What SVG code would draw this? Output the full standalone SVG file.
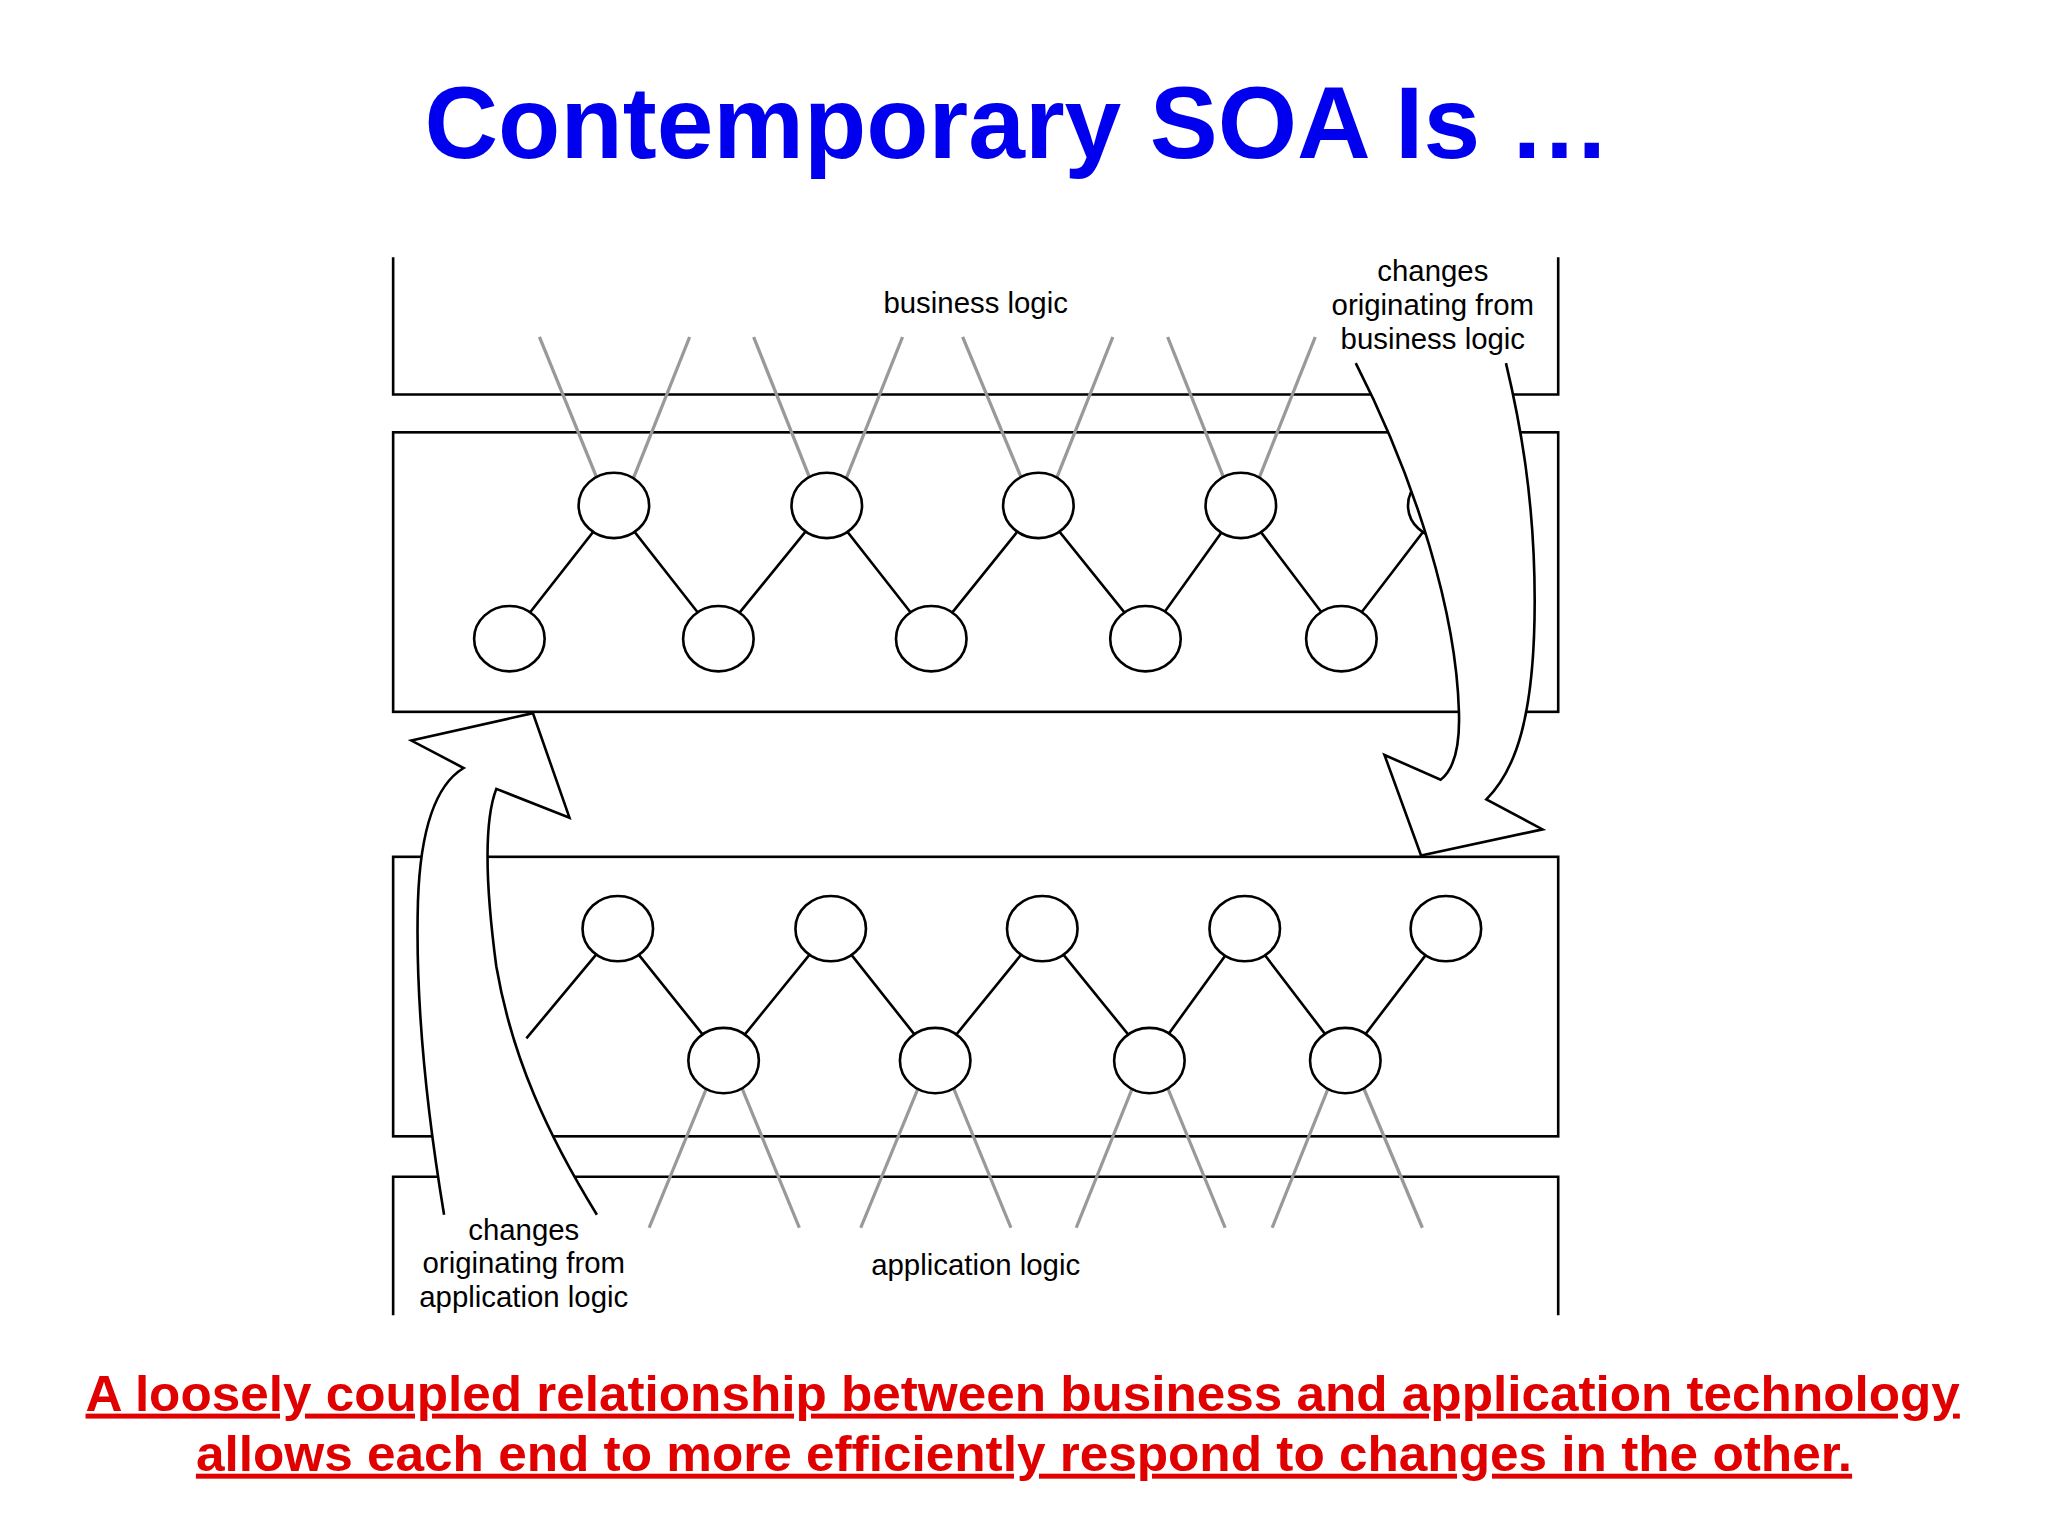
<svg xmlns="http://www.w3.org/2000/svg" width="2048" height="1536" viewBox="0 0 2048 1536">
<style>
.b{fill:none;stroke:#000;stroke-width:2}
.n{fill:#fff;stroke:#000;stroke-width:2}
.g{stroke:#999;stroke-width:2.5}
.l{font-family:"Liberation Sans",Arial,sans-serif;font-size:22.5px;text-anchor:middle;fill:#000}
.r{font-family:"Liberation Sans",Arial,sans-serif;font-size:38px;font-weight:bold;fill:#e00000;text-decoration:underline;text-anchor:middle}
</style>
<rect width="2048" height="1536" fill="#fff"/>
<g transform="scale(1.30612)">
<text x="779" y="121" font-family="Liberation Sans,Arial,sans-serif" font-size="78" font-weight="bold" fill="#0000ee" text-anchor="middle" textLength="908" lengthAdjust="spacingAndGlyphs">Contemporary SOA Is …</text>
<g id="boxes">
<path class="b" d="M301,197 V302 H1193 V197"/>
<rect id="business-band" class="b" x="301" y="331" width="892" height="214"/>
<rect id="application-band" class="b" x="301" y="656" width="892" height="214"/>
<path class="b" d="M301,1007 V901 H1193 V1007"/>
</g>
<g id="connectors">
<g class="g">
<line x1="413" y1="258" x2="457" y2="366"/><line x1="528" y1="258" x2="485" y2="366"/>
<line x1="577" y1="258" x2="620" y2="366"/><line x1="691" y1="258" x2="648" y2="366"/>
<line x1="737" y1="258" x2="782" y2="366"/><line x1="852" y1="258" x2="809" y2="366"/>
<line x1="894" y1="258" x2="937" y2="366"/><line x1="1007" y1="258" x2="964" y2="366"/>
<line x1="497" y1="940" x2="541" y2="833"/><line x1="612" y1="940" x2="568" y2="833"/>
<line x1="659" y1="940" x2="703" y2="833"/><line x1="774" y1="940" x2="730" y2="833"/>
<line x1="824" y1="940" x2="867" y2="833"/><line x1="938" y1="940" x2="894" y2="833"/>
<line x1="974" y1="940" x2="1017" y2="833"/><line x1="1089" y1="940" x2="1044" y2="833"/>
</g>
<polyline class="b" points="390,489 470,387 550,489 633,387 713,489 795,387 877,489 950,387 1027,489 1105,387"/>
<polyline class="b" points="403,795 473,711 554,812 636,711 716,812 798,711 880,812 953,711 1030,812 1107,711"/>
</g>
<g id="business-services">
<ellipse class="n" cx="470" cy="387" rx="27" ry="25"/><ellipse class="n" cx="633" cy="387" rx="27" ry="25"/>
<ellipse class="n" cx="795" cy="387" rx="27" ry="25"/><ellipse class="n" cx="950" cy="387" rx="27" ry="25"/>
<ellipse class="n" cx="1105" cy="387" rx="27" ry="25"/>
<ellipse class="n" cx="390" cy="489" rx="27" ry="25"/><ellipse class="n" cx="550" cy="489" rx="27" ry="25"/>
<ellipse class="n" cx="713" cy="489" rx="27" ry="25"/><ellipse class="n" cx="877" cy="489" rx="27" ry="25"/>
<ellipse class="n" cx="1027" cy="489" rx="27" ry="25"/>
</g>
<g id="application-services">
<ellipse class="n" cx="473" cy="711" rx="27" ry="25"/><ellipse class="n" cx="636" cy="711" rx="27" ry="25"/>
<ellipse class="n" cx="798" cy="711" rx="27" ry="25"/><ellipse class="n" cx="953" cy="711" rx="27" ry="25"/>
<ellipse class="n" cx="1107" cy="711" rx="27" ry="25"/>
<ellipse class="n" cx="554" cy="812" rx="27" ry="25"/><ellipse class="n" cx="716" cy="812" rx="27" ry="25"/>
<ellipse class="n" cx="880" cy="812" rx="27" ry="25"/><ellipse class="n" cx="1030" cy="812" rx="27" ry="25"/>
</g>
<g id="arrow-business">
<path class="n" d="M1038,278 C1085,370 1115,470 1117,545 C1118,575 1112,590 1103,597 L1060,578 L1088,655 L1181,635 L1138,612 C1160,590 1175,550 1175,460 C1175,380 1163,320 1153,278"/>
</g>
<g id="arrow-application">
<path class="n" d="M340,930 C325,840 318,760 320,690 C322,630 335,600 355,588 L315,567 L408,546 L436,626 L380,604 C370,630 372,680 380,740 C392,810 420,870 457,930"/>
</g>
<g id="labels">
<text class="l" x="747" y="240">business logic</text>
<text class="l" x="1097" y="215">changes</text>
<text class="l" x="1097" y="241">originating from</text>
<text class="l" x="1097" y="267">business logic</text>
<text class="l" x="401" y="949">changes</text>
<text class="l" x="401" y="975">originating from</text>
<text class="l" x="401" y="1001">application logic</text>
<text class="l" x="747" y="976">application logic</text>
</g>
<text class="r" x="783" y="1080" textLength="1435" lengthAdjust="spacingAndGlyphs">A loosely coupled relationship between business and application technology</text>
<text class="r" x="784" y="1126" textLength="1268" lengthAdjust="spacingAndGlyphs">allows each end to more efficiently respond to changes in the other.</text>
</g>
</svg>
